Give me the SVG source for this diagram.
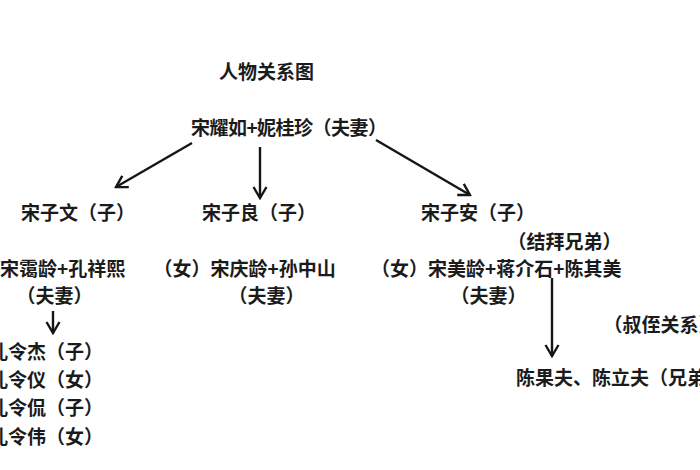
<svg xmlns="http://www.w3.org/2000/svg" width="700" height="470" viewBox="0 0 700 470">
<style>
text{font-family:"Noto Sans CJK SC","Noto Sans",sans-serif;font-weight:700;font-size:19px;fill:#1b1b1b}
.conn line{stroke:#151515;stroke-width:2.4;fill:none}
</style>
<defs>
<marker id="ah" viewBox="-14 -8 16 16" refX="0" refY="0" markerWidth="16" markerHeight="16" markerUnits="userSpaceOnUse" orient="auto">
<path d="M-11,-6.5 L0,0 L-11,6.5" fill="none" stroke="#151515" stroke-width="2.4"/>
</marker>
</defs>
<rect width="700" height="470" fill="#ffffff"/>
<g id="title"><text x="219" y="79">人物关系图</text></g>
<g id="parents"><text x="191" y="135" textLength="196" lengthAdjust="spacing">宋耀如+妮桂珍（夫妻）</text></g>
<g id="songziwen"><text x="21" y="220">宋子文（子）</text></g>
<g id="songziliang"><text x="202" y="220">宋子良（子）</text></g>
<g id="songzian"><text x="421" y="220">宋子安（子）</text></g>
<g id="jiebai"><text x="507.5" y="249">（结拜兄弟）</text></g>
<g id="ailing"><text x="0" y="276">宋霭龄+孔祥熙</text><text x="16.5" y="303">（夫妻）</text></g>
<g id="qingling"><text x="153.5" y="276">（女）宋庆龄+孙中山</text><text x="228.5" y="303">（夫妻）</text></g>
<g id="meiling"><text x="371" y="276">（女）宋美龄+蒋介石+陈其美</text><text x="450.5" y="303">（夫妻）</text></g>
<g id="kong-children">
<text x="-11" y="359">孔令杰（子）</text>
<text x="-11" y="387">孔令仪（女）</text>
<text x="-11" y="415">孔令侃（子）</text>
<text x="-11" y="444">孔令伟（女）</text>
</g>
<g id="shuzhi"><text x="603.5" y="332">（叔侄关系）</text></g>
<g id="chen-brothers"><text x="516" y="385">陈果夫、陈立夫（兄弟）</text></g>
<g class="conn" id="connectors">
<line x1="192" y1="143" x2="116" y2="187" marker-end="url(#ah)"/>
<line x1="260" y1="147" x2="260" y2="198" marker-end="url(#ah)"/>
<line x1="376" y1="140" x2="470" y2="195" marker-end="url(#ah)"/>
<line x1="53" y1="311" x2="53" y2="333" marker-end="url(#ah)"/>
<line x1="552" y1="278" x2="552" y2="356" marker-end="url(#ah)"/>
</g>
</svg>
